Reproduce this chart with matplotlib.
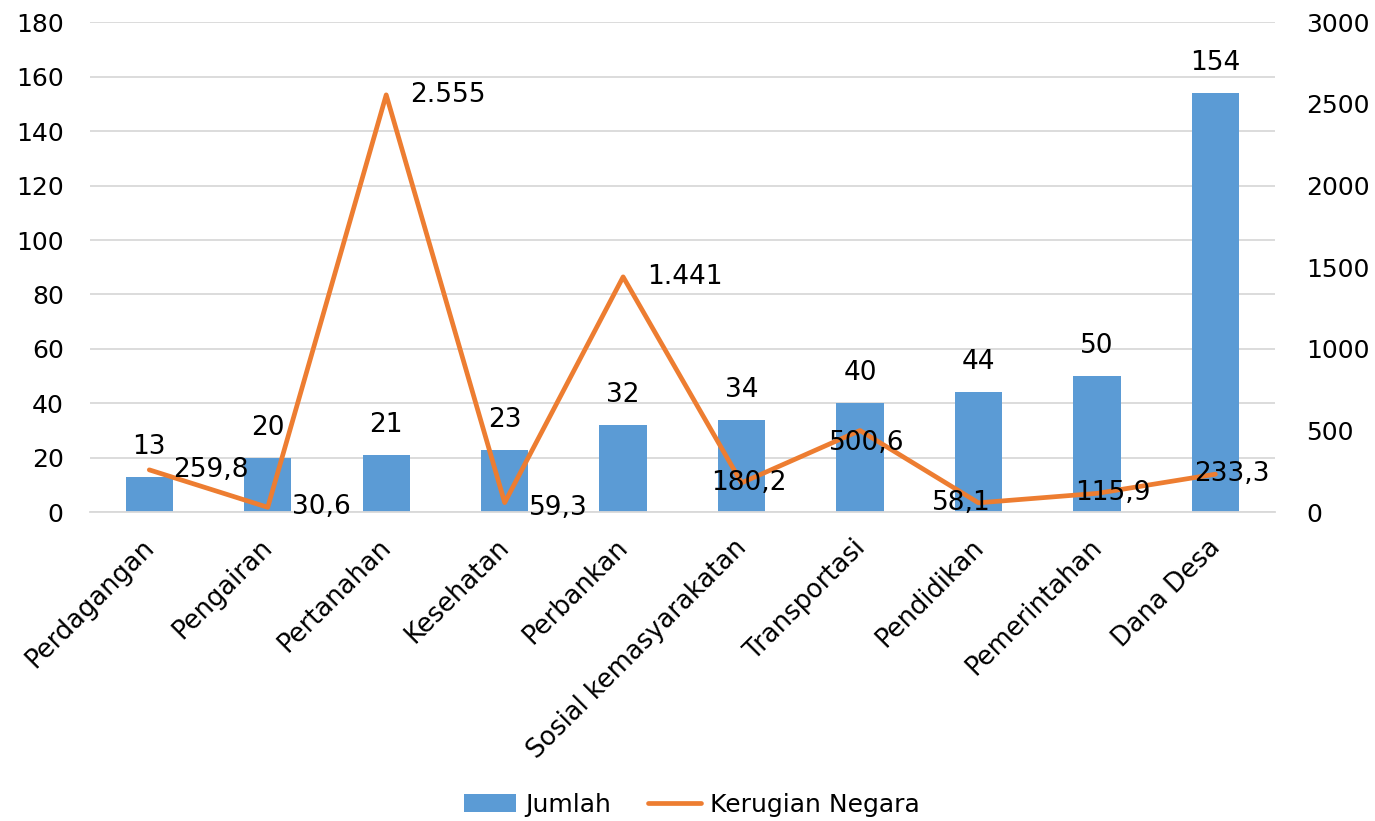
import matplotlib.pyplot as plt
import matplotlib.transforms as mtransforms
import numpy as np

plt.rcParams['font.family'] = ['DejaVu Sans']

# Data
sektor = ['Perdagangan', 'Pengairan', 'Pertanahan', 'Kesehatan', 'Perbankan',
          'Sosial kemasyarakatan', 'Transportasi', 'Pendidikan', 'Pemerintahan', 'Dana Desa']
jumlah = [13, 20, 21, 23, 32, 34, 40, 44, 50, 154]
kerugian = [259.8, 30.6, 2555, 59.3, 1441, 180.2, 500.6, 58.1, 115.9, 233.3]

# where each line label sits relative to its point (pixels, alignment)
lbl_pos = [(24, 0, 'left'), (24, 0, 'left'), (24, 0, 'left'), (24, -5, 'left'),
           (24, 0, 'left'), (7, 0, 'center'), (7, -12, 'center'), (-17, 0, 'center'),
           (16, 0, 'center'), (16, 0, 'center')]


def fmt_id(v):
    # Indonesian number format: comma decimal, dot thousands
    if float(v).is_integer():
        return f"{int(v):,}".replace(',', '.')
    return f"{v:.1f}".replace('.', ',')


fig = plt.figure(figsize=(13.75, 8.21), dpi=100)
ax = fig.add_axes([0.0655, 0.376, 0.8615, 0.597])
ax2 = ax.twinx()

x = np.arange(len(sektor))
bars = ax.bar(x, jumlah, width=0.4, color='#5B9BD5', label='Jumlah', zorder=2)
line, = ax2.plot(x, kerugian, color='#ED7D31', lw=3.4, label='Kerugian Negara',
                 solid_capstyle='round', zorder=3)

ax.set_xlim(-0.5, len(sektor) - 0.5)
ax.set_ylim(0, 180)
ax.set_yticks(range(0, 181, 20))
ax2.set_ylim(0, 3000)
ax2.set_yticks(range(0, 3001, 500))

ax.yaxis.grid(True, color='#D9D9D9', lw=1.3)
ax.set_axisbelow(True)
for a in (ax, ax2):
    for s in a.spines.values():
        s.set_visible(False)
    a.tick_params(length=0, labelsize=18)
ax.spines['bottom'].set_visible(True)
ax.spines['bottom'].set_color('#D9D9D9')
ax.spines['bottom'].set_linewidth(1.3)
ax.tick_params(axis='y', pad=19)
ax2.tick_params(axis='y', pad=23)

ax.set_xticks(x)
ax.set_xticklabels(sektor, rotation=45, ha='right', rotation_mode='anchor', fontsize=18.5)
ax.tick_params(axis='x', pad=16)
# nudge rotated labels a little to the left
shift = mtransforms.ScaledTranslation(-8 / 100, 0, fig.dpi_scale_trans)
for t in ax.get_xticklabels():
    t.set_transform(t.get_transform() + shift)

# bar labels
for xi, v in zip(x, jumlah):
    ax.annotate(str(v), (xi, v), xytext=(0, 30), textcoords='offset pixels',
                ha='center', va='center', fontsize=19)

# line labels
for xi, v, (dx, dy, ha) in zip(x, kerugian, lbl_pos):
    ax2.annotate(fmt_id(v), (xi, v), xytext=(dx, dy), textcoords='offset pixels',
                 ha=ha, va='center', fontsize=19)

fig.legend(handles=[bars, line], loc='center', ncol=2, frameon=False,
           fontsize=18, bbox_to_anchor=(0.503, 0.02), handlelength=2.1,
           columnspacing=1.5, handletextpad=0.35)

fig.savefig('out.png', dpi=100)
